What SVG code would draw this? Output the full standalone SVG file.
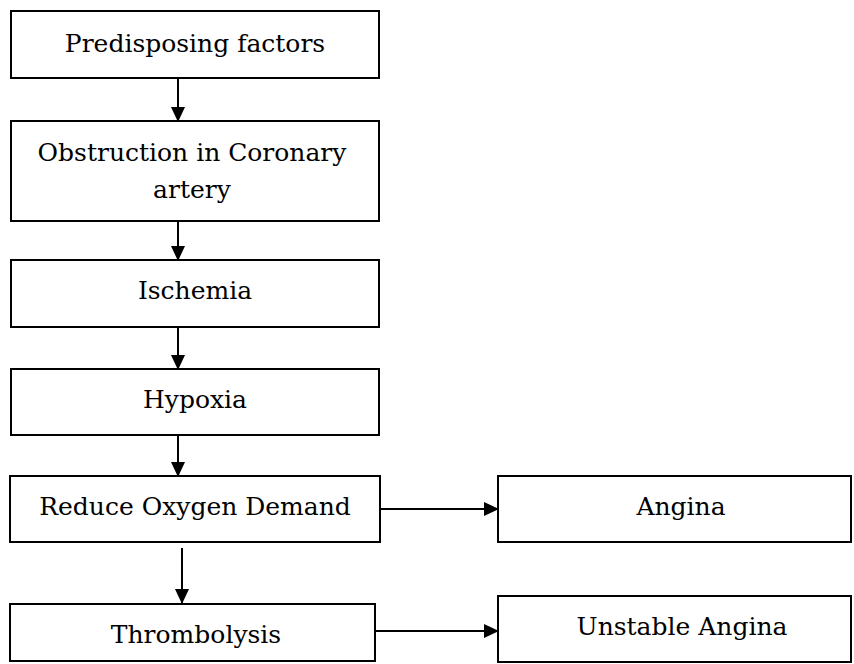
<svg xmlns="http://www.w3.org/2000/svg" width="854" height="664" viewBox="0 0 854 664">
<defs>
<marker id="ah" markerWidth="15" markerHeight="14" refX="14" refY="7" orient="auto" markerUnits="userSpaceOnUse">
<path d="M0,0 L15,7 L0,14 Z" fill="#000"/>
</marker>
<style>
.box{fill:#fff;stroke:#000;stroke-width:2}
.t{font-family:"DejaVu Serif","Liberation Serif",serif;font-size:25px;fill:#000;text-anchor:middle}
.c{stroke:#000;stroke-width:2;fill:none;marker-end:url(#ah)}
</style>
</defs>
<rect width="854" height="664" fill="#fff"/>
<g id="connectors">
<line class="c" x1="178" y1="78" x2="178" y2="121"/>
<line class="c" x1="178" y1="221" x2="178" y2="260"/>
<line class="c" x1="178" y1="327" x2="178" y2="369"/>
<line class="c" x1="178" y1="435" x2="178" y2="476"/>
<line class="c" x1="182" y1="548" x2="182" y2="603"/>
<line class="c" x1="380" y1="509" x2="498" y2="509"/>
<line class="c" x1="375" y1="631" x2="498" y2="631"/>
</g>
<g id="n1"><rect class="box" x="11" y="11" width="368" height="67"/><text class="t" x="195" y="52">Predisposing factors</text></g>
<g id="n2"><rect class="box" x="11" y="121" width="368" height="100"/><text class="t" x="192" y="161">Obstruction in Coronary</text><text class="t" x="192" y="198">artery</text></g>
<g id="n3"><rect class="box" x="11" y="260" width="368" height="67"/><text class="t" x="195" y="299">Ischemia</text></g>
<g id="n4"><rect class="box" x="11" y="369" width="368" height="66"/><text class="t" x="195" y="408">Hypoxia</text></g>
<g id="n5"><rect class="box" x="10" y="476" width="370" height="66"/><text class="t" x="195" y="515">Reduce Oxygen Demand</text></g>
<g id="n6"><rect class="box" x="498" y="476" width="353" height="66"/><text class="t" x="681" y="515">Angina</text></g>
<g id="n7"><rect class="box" x="10" y="604" width="365" height="57"/><text class="t" x="196" y="643">Thrombolysis</text></g>
<g id="n8"><rect class="box" x="498" y="596" width="353" height="66"/><text class="t" x="682" y="635">Unstable Angina</text></g>
</svg>
